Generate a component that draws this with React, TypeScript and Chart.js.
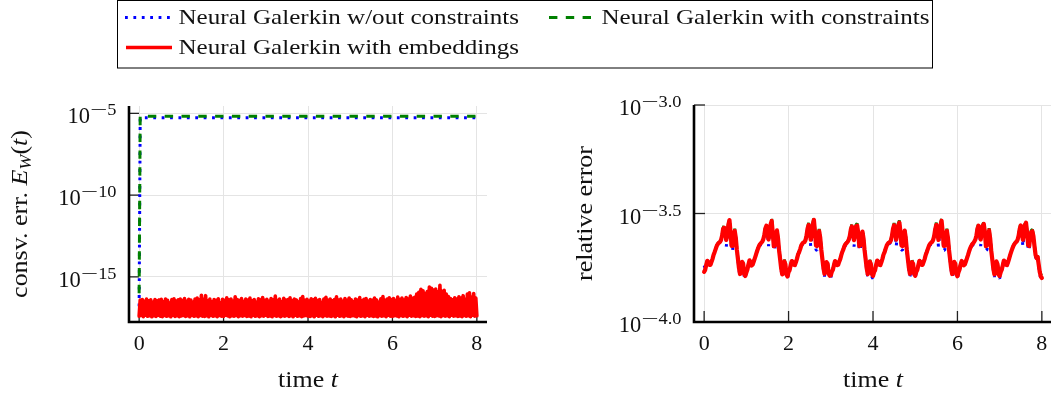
import React, { useEffect, useRef } from "react";
import { Chart, registerables } from "chart.js";
Chart.register(...registerables);

// ---------------- data ----------------
const SERIES_LABELS = [
  "Neural Galerkin w/out constraints",
  "Neural Galerkin with constraints",
  "Neural Galerkin with embeddings",
];
const SERIES_COLORS = ["#0000ff", "#008000", "#ff0000"];

const X_TICKS = [0, 2, 4, 6, 8];
const LEFT_Y_TICK_EXPONENTS = [-15, -10, -5];
const LEFT_Y_TICK_LABELS = ["−15", "−10", "−5"];
const RIGHT_Y_TICK_EXPONENTS = [-4, -3.5, -3];
const RIGHT_Y_TICK_LABELS = ["−4.0", "−3.5", "−3.0"];

// sampling grid of the simulations (dt = 0.025, t in [0, 8])
const timeGrid: number[] = Array.from({ length: 321 }, (_, i) => +(i * 0.025).toFixed(3));

// left panel: conservation error, log10 values
const leftConstTimes = [0, 0.025, 1, 2, 3, 4, 5, 6, 7, 8];
const leftBlueExp = [-16.8, -5.27, -5.27, -5.27, -5.27, -5.27, -5.27, -5.27, -5.27, -5.27];
const leftGreenExp = [-16.0, -5.17, -5.17, -5.17, -5.17, -5.17, -5.17, -5.17, -5.17, -5.17];
const leftRedExp = [
  -17.40,-16.42,-17.36,-16.38,-17.43,-16.50,-17.35,-16.36,-17.41,-16.47,-17.38,-16.40,-17.44,-16.55,-17.37,-16.39,-17.42,-16.46,-17.35,-16.41,
  -17.40,-16.37,-17.43,-16.52,-17.36,-16.35,-17.41,-16.44,-17.38,-16.60,-17.44,-16.39,-17.35,-16.34,-17.42,-16.48,-17.37,-16.40,-17.43,-16.36,
  -17.39,-16.45,-17.36,-16.33,-17.42,-16.50,-17.38,-16.37,-17.44,-16.42,-17.35,-16.56,-17.41,-16.35,-17.37,-16.30,-17.43,-16.41,-17.36,-16.12,
  -17.40,-16.38,-17.42,-16.15,-17.37,-16.46,-17.44,-16.36,-17.35,-16.52,-17.41,-16.39,-17.38,-16.44,-17.43,-16.34,-17.36,-16.58,-17.40,-16.37,
  -17.42,-16.43,-17.35,-16.28,-17.39,-16.40,-17.44,-16.35,-17.37,-16.49,-17.41,-16.22,-17.36,-16.38,-17.43,-16.45,-17.38,-16.33,-17.40,-16.51,
  -17.36,-16.36,-17.42,-16.42,-17.39,-16.30,-17.44,-16.47,-17.35,-16.38,-17.41,-16.55,-17.37,-16.34,-17.43,-16.41,-17.38,-16.26,-17.40,-16.44,
  -17.35,-16.37,-17.42,-16.50,-17.39,-16.33,-17.44,-16.40,-17.36,-16.18,-17.41,-16.45,-17.37,-16.36,-17.43,-16.52,-17.38,-16.31,-17.40,-16.42,
  -17.36,-16.39,-17.42,-16.28,-17.37,-16.46,-17.44,-16.35,-17.35,-16.41,-17.41,-16.54,-17.38,-16.33,-17.43,-16.20,-17.39,-16.44,-17.36,-16.37,
  -17.40,-16.48,-17.42,-16.34,-17.37,-16.40,-17.44,-16.31,-17.35,-16.45,-17.41,-16.38,-17.38,-16.57,-17.43,-16.36,-17.36,-16.25,-17.40,-16.43,
  -17.39,-16.35,-17.42,-16.47,-17.37,-16.39,-17.44,-16.22,-17.35,-16.42,-17.41,-16.36,-17.38,-16.50,-17.43,-16.33,-17.36,-16.44,-17.40,-16.29,
  -17.42,-16.40,-17.37,-16.53,-17.39,-16.35,-17.44,-16.42,-17.36,-16.27,-17.41,-16.46,-17.38,-16.37,-17.43,-16.32,-17.35,-16.49,-17.40,-16.38,
  -17.37,-16.44,-17.42,-16.30,-17.39,-16.41,-17.44,-16.55,-17.36,-16.34,-17.41,-16.20,-17.38,-16.43,-17.43,-16.36,-17.35,-16.28,-17.40,-16.39,
  -17.42,-16.33,-17.37,-16.45,-17.39,-16.24,-17.44,-16.38,-17.36,-16.30,-17.41,-16.42,-17.38,-16.26,-17.43,-16.35,-17.35,-16.18,-17.40,-16.31,
  -17.37,-16.25,-17.42,-16.05,-17.39,-15.95,-17.44,-15.76,-17.36,-15.85,-17.41,-16.02,-17.38,-15.90,-17.43,-15.62,-17.35,-15.70,-17.40,-15.80,
  -17.42,-15.75,-17.37,-15.92,-17.39,-15.52,-17.44,-15.88,-17.36,-15.82,-17.41,-16.05,-17.38,-16.20,-17.43,-16.32,-17.35,-16.40,-17.40,-16.28,
  -17.37,-16.35,-17.42,-16.22,-17.39,-16.30,-17.44,-16.15,-17.36,-16.38,-17.41,-16.05,-17.38,-15.98,-17.43,-16.25,-17.35,-16.02,-17.40,-16.30,
  -17.38,
];

// right panel: relative error, log10 values
const rightRedExp = [
  -3.769,-3.760,-3.737,-3.718,-3.723,-3.737,-3.737,-3.723,-3.709,-3.690,-3.677,-3.663,-3.649,-3.640,-3.635,-3.631,-3.622,-3.603,-3.571,-3.565,
  -3.585,-3.622,-3.594,-3.552,-3.530,-3.585,-3.649,-3.649,-3.603,-3.580,-3.612,-3.667,-3.709,-3.751,-3.779,-3.765,-3.723,-3.732,-3.779,-3.788,
  -3.772,-3.758,-3.735,-3.716,-3.725,-3.740,-3.735,-3.721,-3.707,-3.692,-3.676,-3.662,-3.650,-3.641,-3.636,-3.630,-3.620,-3.600,-3.569,-3.556,
  -3.586,-3.620,-3.592,-3.550,-3.534,-3.587,-3.651,-3.647,-3.601,-3.578,-3.614,-3.669,-3.711,-3.753,-3.781,-3.763,-3.721,-3.734,-3.781,-3.790,
  -3.770,-3.761,-3.738,-3.719,-3.722,-3.736,-3.738,-3.724,-3.708,-3.689,-3.678,-3.664,-3.648,-3.639,-3.634,-3.632,-3.623,-3.602,-3.570,-3.553,
  -3.584,-3.621,-3.595,-3.551,-3.529,-3.584,-3.648,-3.650,-3.604,-3.581,-3.611,-3.666,-3.708,-3.750,-3.778,-3.766,-3.724,-3.731,-3.778,-3.787,
  -3.786,-3.768,-3.759,-3.738,-3.719,-3.724,-3.738,-3.736,-3.722,-3.710,-3.691,-3.676,-3.664,-3.650,-3.641,-3.636,-3.630,-3.621,-3.604,-3.574,
  -3.560,-3.588,-3.623,-3.597,-3.558,-3.556,-3.590,-3.650,-3.648,-3.606,-3.583,-3.614,-3.668,-3.710,-3.752,-3.780,-3.764,-3.722,-3.733,-3.780,
  -3.788,-3.770,-3.761,-3.736,-3.717,-3.722,-3.736,-3.738,-3.724,-3.708,-3.689,-3.678,-3.662,-3.648,-3.639,-3.634,-3.632,-3.623,-3.602,-3.570,
  -3.554,-3.584,-3.621,-3.593,-3.553,-3.542,-3.584,-3.648,-3.650,-3.602,-3.579,-3.611,-3.666,-3.708,-3.750,-3.778,-3.766,-3.724,-3.731,-3.778,
  -3.787,-3.769,-3.760,-3.737,-3.718,-3.723,-3.737,-3.737,-3.723,-3.709,-3.690,-3.677,-3.663,-3.649,-3.640,-3.635,-3.631,-3.622,-3.603,-3.571,
  -3.552,-3.585,-3.622,-3.594,-3.552,-3.533,-3.585,-3.649,-3.649,-3.603,-3.580,-3.612,-3.667,-3.709,-3.751,-3.779,-3.765,-3.723,-3.732,-3.779,
  -3.789,-3.771,-3.758,-3.735,-3.719,-3.725,-3.739,-3.735,-3.721,-3.707,-3.692,-3.675,-3.661,-3.651,-3.642,-3.637,-3.629,-3.620,-3.601,-3.569,
  -3.556,-3.587,-3.620,-3.592,-3.557,-3.548,-3.587,-3.651,-3.647,-3.601,-3.578,-3.614,-3.669,-3.711,-3.753,-3.781,-3.763,-3.721,-3.734,-3.781,
  -3.788,-3.770,-3.759,-3.738,-3.717,-3.722,-3.736,-3.738,-3.724,-3.708,-3.691,-3.676,-3.662,-3.650,-3.641,-3.634,-3.630,-3.621,-3.602,-3.572,
  -3.555,-3.584,-3.621,-3.595,-3.553,-3.542,-3.590,-3.645,-3.650,-3.610,-3.585,-3.582,-3.605,-3.650,-3.690,-3.705,-3.700,-3.735,-3.770,-3.790,
  -3.797,
];
const rightGreenExp = [
  -3.767,-3.758,-3.735,-3.716,-3.721,-3.735,-3.735,-3.721,-3.707,-3.688,-3.675,-3.661,-3.647,-3.638,-3.633,-3.629,-3.620,-3.601,-3.567,-3.555,
  -3.583,-3.620,-3.592,-3.546,-3.520,-3.583,-3.647,-3.647,-3.597,-3.570,-3.610,-3.665,-3.707,-3.749,-3.777,-3.763,-3.715,-3.730,-3.777,-3.786,
  -3.770,-3.756,-3.733,-3.714,-3.723,-3.738,-3.733,-3.719,-3.705,-3.690,-3.674,-3.660,-3.648,-3.639,-3.634,-3.628,-3.618,-3.598,-3.565,-3.546,
  -3.584,-3.618,-3.590,-3.544,-3.524,-3.585,-3.649,-3.645,-3.595,-3.568,-3.612,-3.667,-3.709,-3.751,-3.779,-3.761,-3.713,-3.732,-3.779,-3.788,
  -3.768,-3.759,-3.736,-3.717,-3.720,-3.734,-3.736,-3.722,-3.706,-3.687,-3.676,-3.662,-3.646,-3.637,-3.632,-3.630,-3.621,-3.600,-3.566,-3.543,
  -3.582,-3.619,-3.593,-3.545,-3.519,-3.582,-3.646,-3.648,-3.598,-3.571,-3.609,-3.664,-3.706,-3.748,-3.776,-3.764,-3.716,-3.729,-3.776,-3.785,
  -3.784,-3.766,-3.757,-3.736,-3.717,-3.722,-3.736,-3.734,-3.720,-3.708,-3.689,-3.674,-3.662,-3.648,-3.639,-3.634,-3.628,-3.619,-3.602,-3.570,
  -3.550,-3.586,-3.621,-3.595,-3.552,-3.546,-3.588,-3.648,-3.646,-3.600,-3.573,-3.612,-3.666,-3.708,-3.750,-3.778,-3.762,-3.714,-3.731,-3.778,
  -3.786,-3.768,-3.759,-3.734,-3.715,-3.720,-3.734,-3.736,-3.722,-3.706,-3.687,-3.676,-3.660,-3.646,-3.637,-3.632,-3.630,-3.621,-3.600,-3.566,
  -3.544,-3.582,-3.619,-3.591,-3.547,-3.532,-3.582,-3.646,-3.648,-3.596,-3.569,-3.609,-3.664,-3.706,-3.748,-3.776,-3.764,-3.716,-3.729,-3.776,
  -3.785,-3.767,-3.758,-3.735,-3.716,-3.721,-3.735,-3.735,-3.721,-3.707,-3.688,-3.675,-3.661,-3.647,-3.638,-3.633,-3.629,-3.620,-3.601,-3.567,
  -3.542,-3.583,-3.620,-3.592,-3.546,-3.523,-3.583,-3.647,-3.647,-3.597,-3.570,-3.610,-3.665,-3.707,-3.749,-3.777,-3.763,-3.715,-3.730,-3.777,
  -3.787,-3.769,-3.756,-3.733,-3.717,-3.723,-3.737,-3.733,-3.719,-3.705,-3.690,-3.673,-3.659,-3.649,-3.640,-3.635,-3.627,-3.618,-3.599,-3.565,
  -3.546,-3.585,-3.618,-3.590,-3.551,-3.538,-3.585,-3.649,-3.645,-3.595,-3.568,-3.612,-3.667,-3.709,-3.751,-3.779,-3.761,-3.713,-3.732,-3.779,
  -3.786,-3.768,-3.757,-3.736,-3.715,-3.720,-3.734,-3.736,-3.722,-3.706,-3.689,-3.674,-3.660,-3.648,-3.639,-3.632,-3.628,-3.619,-3.600,-3.568,
  -3.545,-3.582,-3.619,-3.593,-3.547,-3.532,-3.588,-3.643,-3.648,-3.604,-3.577,-3.574,-3.603,-3.648,-3.688,-3.703,-3.694,-3.733,-3.765,-3.780,
  -3.775,
];
const rightBlueExp = [
  -3.739,-3.752,-3.737,-3.718,-3.723,-3.737,-3.737,-3.723,-3.709,-3.690,-3.677,-3.663,-3.649,-3.646,-3.641,-3.637,-3.622,-3.603,-3.571,-3.565,
  -3.593,-3.652,-3.604,-3.552,-3.530,-3.585,-3.669,-3.669,-3.603,-3.580,-3.612,-3.667,-3.709,-3.759,-3.791,-3.765,-3.723,-3.732,-3.791,-3.800,
  -3.772,-3.758,-3.735,-3.716,-3.725,-3.740,-3.735,-3.721,-3.707,-3.692,-3.676,-3.662,-3.650,-3.647,-3.642,-3.636,-3.620,-3.600,-3.569,-3.556,
  -3.594,-3.650,-3.602,-3.550,-3.534,-3.587,-3.671,-3.667,-3.601,-3.578,-3.614,-3.669,-3.711,-3.761,-3.793,-3.763,-3.721,-3.734,-3.793,-3.802,
  -3.770,-3.761,-3.738,-3.719,-3.722,-3.736,-3.738,-3.724,-3.708,-3.689,-3.678,-3.664,-3.648,-3.645,-3.640,-3.638,-3.623,-3.602,-3.570,-3.553,
  -3.592,-3.651,-3.605,-3.551,-3.529,-3.584,-3.668,-3.670,-3.604,-3.581,-3.611,-3.666,-3.708,-3.758,-3.790,-3.766,-3.724,-3.731,-3.790,-3.799,
  -3.798,-3.768,-3.759,-3.738,-3.719,-3.724,-3.738,-3.736,-3.722,-3.710,-3.691,-3.676,-3.664,-3.650,-3.647,-3.642,-3.636,-3.621,-3.604,-3.574,
  -3.560,-3.596,-3.653,-3.607,-3.558,-3.556,-3.590,-3.670,-3.668,-3.606,-3.583,-3.614,-3.668,-3.710,-3.760,-3.792,-3.764,-3.722,-3.733,-3.792,
  -3.800,-3.770,-3.761,-3.736,-3.717,-3.722,-3.736,-3.738,-3.724,-3.708,-3.689,-3.678,-3.662,-3.648,-3.645,-3.640,-3.638,-3.623,-3.602,-3.570,
  -3.554,-3.592,-3.651,-3.603,-3.553,-3.542,-3.584,-3.668,-3.670,-3.602,-3.579,-3.611,-3.666,-3.708,-3.758,-3.790,-3.766,-3.724,-3.731,-3.790,
  -3.799,-3.769,-3.760,-3.737,-3.718,-3.723,-3.737,-3.737,-3.723,-3.709,-3.690,-3.677,-3.663,-3.649,-3.646,-3.641,-3.637,-3.622,-3.603,-3.571,
  -3.552,-3.593,-3.652,-3.604,-3.552,-3.533,-3.585,-3.669,-3.669,-3.603,-3.580,-3.612,-3.667,-3.709,-3.759,-3.791,-3.765,-3.723,-3.732,-3.791,
  -3.801,-3.771,-3.758,-3.735,-3.719,-3.725,-3.739,-3.735,-3.721,-3.707,-3.692,-3.675,-3.661,-3.651,-3.648,-3.643,-3.635,-3.620,-3.601,-3.569,
  -3.556,-3.595,-3.650,-3.602,-3.557,-3.548,-3.587,-3.671,-3.667,-3.601,-3.578,-3.614,-3.669,-3.711,-3.761,-3.793,-3.763,-3.721,-3.734,-3.793,
  -3.800,-3.770,-3.759,-3.738,-3.717,-3.722,-3.736,-3.738,-3.724,-3.708,-3.691,-3.676,-3.662,-3.650,-3.647,-3.640,-3.636,-3.621,-3.602,-3.572,
  -3.555,-3.592,-3.651,-3.605,-3.553,-3.542,-3.590,-3.665,-3.670,-3.610,-3.585,-3.582,-3.612,-3.660,-3.700,-3.712,-3.700,-3.742,-3.780,-3.800,
  -3.805,
];

// ---------------- drawing helpers ----------------
const FAMILY = '"Liberation Serif", "Times New Roman", Times, serif';
type Run = { t: string; size: number; italic?: boolean; dy?: number; sx?: number };

function setFont(ctx: CanvasRenderingContext2D, r: Run) {
  ctx.font = `${r.italic ? "italic " : ""}${r.size}px ${FAMILY}`;
}
function runsWidth(ctx: CanvasRenderingContext2D, runs: Run[]) {
  let w = 0;
  for (const r of runs) {
    setFont(ctx, r);
    w += ctx.measureText(r.t).width * (r.sx ?? 1);
  }
  return w;
}
function drawRuns(ctx: CanvasRenderingContext2D, runs: Run[], x: number, y: number) {
  let cx = x;
  ctx.textAlign = "left";
  ctx.textBaseline = "alphabetic";
  for (const r of runs) {
    setFont(ctx, r);
    const s = r.sx ?? 1;
    const w = ctx.measureText(r.t).width;
    ctx.save();
    ctx.translate(cx, y + (r.dy ?? 0));
    ctx.scale(s, 1);
    ctx.fillText(r.t, 0, 0);
    ctx.restore();
    cx += w * s;
  }
}

const WORD = 23;
const WSX = 1.13;

type PanelCfg = {
  yTickExps: number[];
  yTickLabels: string[];
  yTitle: Run[];
  yTitleX: number;
  tickLen: number;
  redWidth: number;
};

function makeAxesPlugin(cfg: PanelCfg) {
  return {
    id: "pgfAxes",
    beforeDatasetsDraw(chart: any) {
      const { ctx, chartArea: a, scales } = chart;
      const xs = scales.x;
      const ys = scales.y;
      ctx.save();
      ctx.strokeStyle = "#222";
      ctx.lineWidth = 1.3;
      for (const v of X_TICKS) {
        const px = xs.getPixelForValue(v);
        ctx.beginPath();
        ctx.moveTo(px, a.bottom);
        ctx.lineTo(px, a.bottom - cfg.tickLen);
        ctx.stroke();
      }
      for (const e of cfg.yTickExps) {
        const py = ys.getPixelForValue(Math.pow(10, e));
        ctx.beginPath();
        ctx.moveTo(a.left, py);
        ctx.lineTo(a.left + cfg.tickLen, py);
        ctx.stroke();
      }
      ctx.strokeStyle = "#000";
      ctx.lineWidth = 2.6;
      ctx.lineJoin = "miter";
      ctx.beginPath();
      ctx.moveTo(a.left, a.top);
      ctx.lineTo(a.left, a.bottom);
      ctx.lineTo(a.right, a.bottom);
      ctx.stroke();
      ctx.restore();
    },
    afterDraw(chart: any) {
      const { ctx, chartArea: a, scales } = chart;
      const xs = scales.x;
      const ys = scales.y;
      ctx.save();
      ctx.fillStyle = "#111";
      ctx.font = `22px ${FAMILY}`;
      ctx.textAlign = "center";
      ctx.textBaseline = "alphabetic";
      for (const v of X_TICKS) {
        ctx.fillText(String(v), xs.getPixelForValue(v), 349.5);
      }
      cfg.yTickExps.forEach((e, i) => {
        const py = ys.getPixelForValue(Math.pow(10, e));
        const lab = cfg.yTickLabels[i];
        const runs: Run[] = [
          { t: "10", size: 22.5 },
          { t: lab.slice(0, 1), size: 17, dy: -8, sx: 1.8 },
          { t: lab.slice(1), size: 17.5, dy: -8, sx: 1.05 },
        ];
        const w = runsWidth(ctx, runs);
        drawRuns(ctx, runs, a.left - 12.5 - w, py + 10);
      });
      const xt: Run[] = [
        { t: "time ", size: WORD, sx: WSX },
        { t: "t", size: WORD, italic: true, sx: WSX },
      ];
      const xw = runsWidth(ctx, xt);
      drawRuns(ctx, xt, (a.left + a.right) / 2 - xw / 2, 386.5);
      const yw = runsWidth(ctx, cfg.yTitle);
      ctx.save();
      ctx.translate(cfg.yTitleX, (a.top + a.bottom) / 2);
      ctx.rotate(-Math.PI / 2);
      drawRuns(ctx, cfg.yTitle, -yw / 2, 0);
      ctx.restore();
      ctx.restore();
    },
  };
}

const toPoints = (ts: number[], exps: number[]) =>
  exps.map((e, i) => ({ x: ts[i], y: Math.pow(10, e) }));

function baseOptions(yMin: number, yMax: number, yTickExps: number[], yWidth: number, pad: any) {
  return {
    animation: false as const,
    responsive: false,
    maintainAspectRatio: false,
    devicePixelRatio: 1,
    layout: { padding: pad },
    events: [],
    plugins: { legend: { display: false }, tooltip: { enabled: false }, title: { display: false } },
    elements: { point: { radius: 0 }, line: { tension: 0 } },
    scales: {
      x: {
        type: "linear" as const,
        min: -0.24,
        max: 8.24,
        afterBuildTicks: (s: any) => {
          s.ticks = X_TICKS.map((v) => ({ value: v }));
        },
        afterFit: (s: any) => {
          s.height = 76;
        },
        ticks: { display: false },
        grid: { color: "#e4e4e4", lineWidth: 1, drawTicks: false },
        border: { display: false },
      },
      y: {
        type: "logarithmic" as const,
        min: yMin,
        max: yMax,
        afterBuildTicks: (s: any) => {
          s.ticks = yTickExps.map((e) => ({ value: Math.pow(10, e) }));
        },
        afterFit: (s: any) => {
          s.width = yWidth;
        },
        ticks: { display: false },
        grid: { color: "#e4e4e4", lineWidth: 1, drawTicks: false },
        border: { display: false },
      },
    },
  };
}

// higher "order" is drawn first (underneath): blue, then green, red on top
function lineDatasets(blue: any[], green: any[], red: any[], redWidth: number) {
  return [
    {
      label: SERIES_LABELS[0],
      data: blue,
      order: 3,
      borderColor: SERIES_COLORS[0],
      borderWidth: 3,
      borderDash: [2.8, 5.6],
      borderJoinStyle: "bevel" as const,
      fill: false,
    },
    {
      label: SERIES_LABELS[1],
      data: green,
      order: 2,
      borderColor: SERIES_COLORS[1],
      borderWidth: 3,
      borderDash: [8.4, 8.4],
      borderJoinStyle: "bevel" as const,
      fill: false,
    },
    {
      label: SERIES_LABELS[2],
      data: red,
      order: 1,
      borderColor: SERIES_COLORS[2],
      borderWidth: redWidth,
      borderJoinStyle: "round" as const,
      borderCapStyle: "round" as const,
      fill: false,
    },
  ];
}

function drawLegend(canvas: HTMLCanvasElement) {
  const ctx = canvas.getContext("2d")!;
  ctx.clearRect(0, 0, canvas.width, canvas.height);
  ctx.strokeStyle = "#000";
  ctx.lineWidth = 1;
  ctx.strokeRect(117.5, 0.5, 815, 67.5);
  const sample = (x0: number, x1: number, y: number, color: string, w: number, dash: number[]) => {
    ctx.save();
    ctx.strokeStyle = color;
    ctx.lineWidth = w;
    ctx.setLineDash(dash);
    ctx.beginPath();
    ctx.moveTo(x0, y);
    ctx.lineTo(x1, y);
    ctx.stroke();
    ctx.restore();
  };
  sample(125, 171, 17.5, SERIES_COLORS[0], 2.8, [2.8, 5.6]);
  sample(549, 591, 17.5, SERIES_COLORS[1], 3, [8.4, 8.4]);
  sample(126, 172, 47.5, SERIES_COLORS[2], 3.3, []);
  ctx.fillStyle = "#111";
  drawRuns(ctx, [{ t: SERIES_LABELS[0], size: 22, sx: 1.14 }], 178.5, 24);
  drawRuns(ctx, [{ t: SERIES_LABELS[1], size: 22, sx: 1.14 }], 601.5, 24);
  drawRuns(ctx, [{ t: SERIES_LABELS[2], size: 22, sx: 1.14 }], 178.5, 53.5);
}

export default function App() {
  const legendRef = useRef<HTMLCanvasElement>(null);
  const leftRef = useRef<HTMLCanvasElement>(null);
  const rightRef = useRef<HTMLCanvasElement>(null);

  useEffect(() => {
    if (legendRef.current) drawLegend(legendRef.current);

    const leftChart = new Chart(leftRef.current!, {
      type: "line",
      data: {
        datasets: lineDatasets(
          toPoints(leftConstTimes, leftBlueExp),
          toPoints(leftConstTimes, leftGreenExp),
          toPoints(timeGrid, leftRedExp),
          3.6
        ) as any,
      },
      options: baseOptions(Math.pow(10, -17.76), Math.pow(10, -4.55), LEFT_Y_TICK_EXPONENTS, 129, {
        top: 106,
        right: 13,
        left: 0,
        bottom: 0,
      }) as any,
      plugins: [
        makeAxesPlugin({
          yTickExps: LEFT_Y_TICK_EXPONENTS,
          yTickLabels: LEFT_Y_TICK_LABELS,
          yTitle: [
            { t: "consv. err. ", size: WORD, sx: WSX },
            { t: "E", size: WORD, italic: true, sx: WSX },
            { t: "W", size: 16, italic: true, dy: 4, sx: WSX },
            { t: "(", size: WORD, sx: WSX },
            { t: "t", size: WORD, italic: true, sx: WSX },
            { t: ")", size: WORD, sx: WSX },
          ],
          yTitleX: 27,
          tickLen: 10,
          redWidth: 3.6,
        }),
      ],
    });

    const rightChart = new Chart(rightRef.current!, {
      type: "line",
      data: {
        datasets: lineDatasets(
          toPoints(timeGrid, rightBlueExp),
          toPoints(timeGrid, rightGreenExp),
          toPoints(timeGrid, rightRedExp),
          4.2
        ) as any,
      },
      options: baseOptions(1e-4, 1e-3, RIGHT_Y_TICK_EXPONENTS, 164, {
        top: 105,
        right: 1,
        left: 0,
        bottom: 0,
      }) as any,
      plugins: [
        makeAxesPlugin({
          yTickExps: RIGHT_Y_TICK_EXPONENTS,
          yTickLabels: RIGHT_Y_TICK_LABELS,
          yTitle: [{ t: "relative error", size: WORD, sx: WSX }],
          yTitleX: 591.5 - 530,
          tickLen: 11,
          redWidth: 4.2,
        }),
      ],
    });

    return () => {
      leftChart.destroy();
      rightChart.destroy();
    };
  }, []);

  return (
    <div
      style={{
        position: "fixed",
        left: 0,
        top: 0,
        width: 1051,
        height: 398,
        overflow: "hidden",
        background: "#fff",
      }}
    >
      <canvas
        ref={leftRef}
        width={500}
        height={398}
        style={{ position: "absolute", left: 0, top: 0, width: 500, height: 398 }}
      />
      <canvas
        ref={rightRef}
        width={523}
        height={398}
        style={{ position: "absolute", left: 530, top: 0, width: 523, height: 398 }}
      />
      <canvas
        ref={legendRef}
        width={1051}
        height={70}
        style={{ position: "absolute", left: 0, top: 0, width: 1051, height: 70 }}
      />
    </div>
  );
}
